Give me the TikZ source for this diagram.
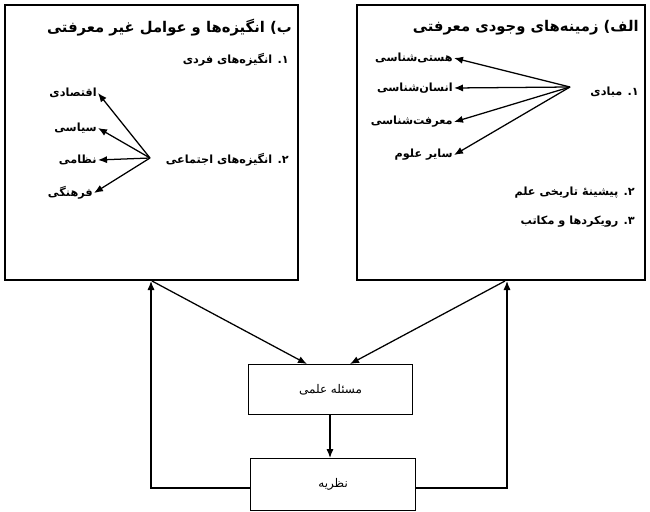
\documentclass[tikz,border=0pt]{standalone}
\usepackage{fontspec}
\newfontfamily\fafont[Script=Arabic]{DejaVu Sans}
\TeXXeTstate=1
\usetikzlibrary{arrows.meta}
\newcommand{\fa}[1]{\fafont\beginR #1\endR}

\begin{document}
\begin{tikzpicture}[x=0.5mm, y=-0.5mm, line width=1.8pt, >={Latex[length=4.5mm,width=3.6mm]},
		every node/.style={font=\fafont\fontsize{17}{20}\selectfont},
		txt/.style={anchor=east, inner sep=1pt, font=\fafont\bfseries\fontsize{16}{20}\selectfont},
		head/.style={anchor=east, inner sep=1pt, font=\fafont\bfseries\fontsize{21}{24}\selectfont},
		box/.style={draw, anchor=north west, inner sep=0pt}]
		\useasboundingbox (0,0) rectangle (650,512);

		% upper boxes
		\draw[line width=2.2pt] (5,5) rectangle (298,280);
		\draw[line width=2.2pt] (357,5) rectangle (645,280);
		\node[box, minimum width=164*0.5mm, minimum height=50*0.5mm] (MAS) at (248,364) {};
		\node at (MAS.center) {\fa{مسئله علمی}};
		\node[box, minimum width=165*0.5mm, minimum height=52*0.5mm] (NAZ) at (250,458) {};
		\node at (NAZ.center) {\fa{نظریه}};

		% right box
		\node[head] (ALEF) at (640,28) {\fa{الف) زمینه‌های وجودی معرفتی}};
		\node[txt] (MAB) at (640,92) {\fa{۱. مبادی}};
		\node[txt] (HAS) at (454,58) {\fa{هستی‌شناسی}};
		\node[txt] (ENS) at (454,88) {\fa{انسان‌شناسی}};
		\node[txt] (MAR) at (454,122) {\fa{معرفت‌شناسی}};
		\node[txt] (SAY) at (454,155) {\fa{سایر علوم}};
		\node[txt] (PIS) at (636,193) {\fa{۲. پیشینهٔ تاریخی علم}};
		\node[txt] (ROY) at (636,222) {\fa{۳. رویکردها و مکاتب}};
		\coordinate (mabfrom) at (570,87);
		\foreach \n in {HAS, ENS, MAR, SAY}
			\draw[->] (mabfrom) -- (\n.east);

		% left box
		\node[head] (BE) at (293,28) {\fa{ب) انگیزه‌ها و عوامل غیر معرفتی}};
		\node[txt] (FAR) at (290,60) {\fa{۱. انگیزه‌های فردی}};
		\node[txt] (EJT) at (290,160) {\fa{۲. انگیزه‌های اجتماعی}};
		\node[txt] (EGH) at (98,93) {\fa{اقتصادی}};
		\node[txt] (SIA) at (98,128) {\fa{سیاسی}};
		\node[txt] (NEZ) at (98,160) {\fa{نظامی}};
		\node[txt] (FAH) at (94,193) {\fa{فرهنگی}};
		\coordinate (ejtfrom) at (150,158);
		\foreach \n in {EGH, SIA, NEZ, FAH}
			\draw[->] (ejtfrom) -- (\n.east);

		% loop
		\draw[->] (152,281) -- (MAS.north west -| 307,0);
		\draw[->] (505,281) -- (MAS.north west -| 350,0);
		\draw[->] (MAS.south -| 330,0) -- (NAZ.north -| 330,0);
		\draw[->] (NAZ.west |- 0,488) -| (151,281);
		\draw[->] (NAZ.east |- 0,488) -| (507,281);
\end{tikzpicture}
\end{document}
